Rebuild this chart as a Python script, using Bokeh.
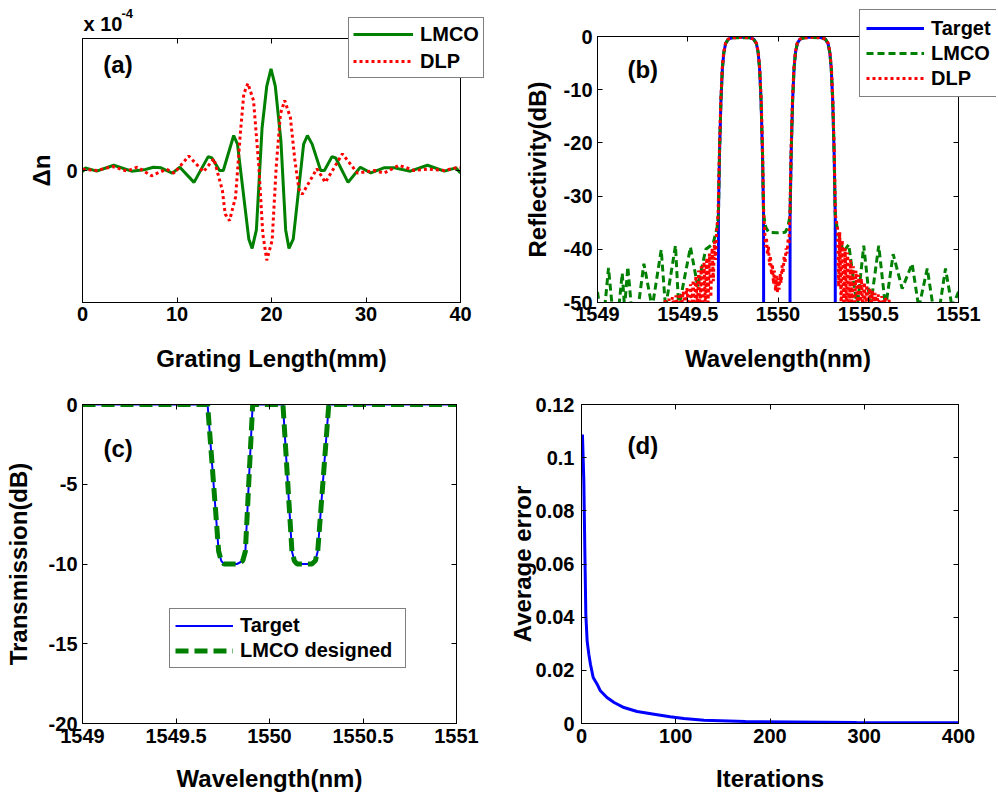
from bokeh.plotting import figure
from bokeh.models import Range1d, FixedTicker, LinearAxis, NumeralTickFormatter, Legend, LegendItem, Label
from bokeh.layouts import row, column
from bokeh.embed import file_html
from bokeh.resources import INLINE

FONT = "Liberation Sans"
GREEN = "#008000"
RED = "#ff0000"
BLUE = "#0000ff"

# ---------------- (a) index modulation, units of 1e-4 ----------------
grating_mm_lmco = [0.0, 0.3, 1.5, 3.3, 5.2, 6.5, 7.5, 8.3, 9.5, 10.3, 11.8, 13.3, 13.7, 14.5, 14.9,
                   16.0, 16.4, 17.6, 17.95, 18.4, 19.0, 19.5, 19.95, 20.4, 21.0, 21.5, 21.85, 22.3,
                   23.4, 23.8, 24.3, 25.2, 25.6, 26.4, 26.8, 28.1, 29.4, 30.5, 31.9, 33.0, 34.7,
                   36.5, 38.3, 39.5, 40.0]
dn_lmco = [-0.01, 0.02, -0.005, 0.04, -0.005, 0.005, 0.025, 0.02, -0.02, 0.025, -0.09, 0.105, 0.095,
           0.0, 0.0, 0.265, 0.2, -0.52, -0.59, -0.45, 0.32, 0.64, 0.77, 0.64, 0.22, -0.45, -0.59,
           -0.52, 0.2, 0.265, 0.2, 0.0, 0.0, 0.105, 0.095, -0.09, 0.025, -0.018, 0.02, 0.02, -0.005,
           0.04, -0.005, 0.02, -0.018]
grating_mm_dlp = [0.0, 1.5, 3.2, 4.7, 5.8, 7.3, 8.9, 9.7, 11.25, 12.8, 13.9, 14.8, 15.1, 15.56, 16.2,
                  16.7, 17.07, 17.5, 18.1, 18.66, 19.08, 19.5, 20.07, 20.5, 20.95, 21.4, 22.0, 22.47,
                  22.9, 23.25, 24.8, 25.7, 27.5, 29.1, 30.9, 31.9, 33.5, 35.1, 36.5, 38.3, 39.5, 40.0]
dn_dlp = [0.01, 0.0, 0.03, -0.005, 0.025, -0.04, 0.01, -0.02, 0.11, -0.01, 0.09, -0.15, -0.33, -0.38,
          -0.2, 0.28, 0.58, 0.66, 0.53, 0.03, -0.48, -0.68, -0.53, 0.03, 0.43, 0.53, 0.4, 0.08,
          -0.14, -0.18, 0.013, -0.09, 0.126, -0.02, 0.0, -0.02, 0.04, 0.0, 0.01, 0.0, 0.02, 0.02]

# ---------------- (b) reflectivity (dB) ----------------
refl_target_wl = [1549.000, 1549.669, 1549.670, 1549.676, 1549.684, 1549.692, 1549.700, 1549.710,
                  1549.725, 1549.750, 1549.795, 1549.840, 1549.865, 1549.880, 1549.890, 1549.898,
                  1549.906, 1549.914, 1549.920, 1549.921, 1550.066, 1550.067, 1550.073, 1550.081,
                  1550.089, 1550.097, 1550.107, 1550.122, 1550.147, 1550.192, 1550.237, 1550.262,
                  1550.277, 1550.287, 1550.295, 1550.303, 1550.311, 1550.317, 1550.318, 1551.000]
refl_target_db = [-80, -80, -33.5, -22, -12, -6, -3, -1.3, -0.5, -0.2, -0.1, -0.2, -0.5, -1.3, -3, -6,
                  -12, -22, -33.5, -80, -80, -33.5, -22, -12, -6, -3, -1.3, -0.5, -0.2, -0.1, -0.2,
                  -0.5, -1.3, -3, -6, -12, -22, -33.5, -80, -80]

refl_lmco_wl = [1549.000, 1549.012, 1549.040, 1549.061, 1549.082, 1549.118, 1549.137, 1549.150,
                1549.168, 1549.188, 1549.225, 1549.257, 1549.303, 1549.353, 1549.377, 1549.432,
                1549.450, 1549.515, 1549.555, 1549.600, 1549.640, 1549.662,
                1549.670, 1549.676, 1549.684, 1549.692, 1549.700, 1549.710, 1549.725, 1549.750,
                1549.795, 1549.840, 1549.865, 1549.880, 1549.890, 1549.898, 1549.906, 1549.914,
                1549.920,
                1549.932, 1549.948, 1549.995, 1550.040, 1550.055,
                1550.067, 1550.073, 1550.081, 1550.089, 1550.097, 1550.107, 1550.122, 1550.147,
                1550.192, 1550.237, 1550.262, 1550.277, 1550.287, 1550.295, 1550.303, 1550.311,
                1550.317,
                1550.330, 1550.362, 1550.392, 1550.439, 1550.475, 1550.512, 1550.558, 1550.596,
                1550.638, 1550.688, 1550.743, 1550.780, 1550.827, 1550.860, 1550.895, 1550.928,
                1550.965, 1551.000]
refl_lmco_db = [-48, -51, -51, -43.5, -51, -51, -44.5, -51, -43.3, -51, -51, -42.7, -51, -40.1, -51,
                -39.3, -51, -39.6, -47, -40, -39, -36,
                -33.5, -22, -12, -6, -3, -1.3, -0.5, -0.25, -0.2, -0.25, -0.5, -1.3, -3, -6, -12,
                -22, -33.5,
                -35.8, -36.8, -36.9, -36.8, -35.8,
                -33.5, -22, -12, -6, -3, -1.3, -0.5, -0.25, -0.2, -0.25, -0.5, -1.3, -3, -6, -12,
                -22, -33.5,
                -36.5, -40.5, -39.1, -51, -39.3, -51, -39.3, -51, -40.9, -47.4, -42.7, -51, -43.6,
                -51, -51, -43.6, -51, -48]

refl_dlp_wl = [1549.000, 1549.365, 1549.375, 1549.385, 1549.395, 1549.405, 1549.415, 1549.425,
               1549.435, 1549.445, 1549.455, 1549.465, 1549.475, 1549.485, 1549.495, 1549.505,
               1549.515, 1549.523, 1549.530, 1549.538, 1549.545, 1549.553, 1549.560, 1549.568,
               1549.575, 1549.583, 1549.590, 1549.598, 1549.605, 1549.613, 1549.620, 1549.628,
               1549.635, 1549.642, 1549.648, 1549.654, 1549.660,
               1549.668, 1549.675, 1549.683, 1549.691, 1549.699, 1549.709, 1549.724, 1549.750,
               1549.795, 1549.840, 1549.866, 1549.881, 1549.891, 1549.899, 1549.907, 1549.915,
               1549.921,
               1549.926, 1549.931, 1549.936, 1549.942, 1549.947, 1549.953, 1549.958, 1549.964,
               1549.969, 1549.975, 1549.980, 1549.986, 1549.991, 1549.996, 1550.001, 1550.006,
               1550.012, 1550.017, 1550.023, 1550.028, 1550.034, 1550.039, 1550.045, 1550.050,
               1550.056, 1550.061,
               1550.066, 1550.072, 1550.080, 1550.088, 1550.096, 1550.106, 1550.121, 1550.147,
               1550.192, 1550.237, 1550.263, 1550.278, 1550.288, 1550.296, 1550.304, 1550.312,
               1550.318,
               1550.330, 1550.336, 1550.342, 1550.350, 1550.356, 1550.365, 1550.372, 1550.380,
               1550.386, 1550.395, 1550.402, 1550.410, 1550.418, 1550.425, 1550.432, 1550.440,
               1550.448, 1550.455, 1550.462, 1550.470, 1550.478, 1550.485, 1550.492, 1550.500,
               1550.508, 1550.515, 1550.522, 1550.530, 1550.538, 1550.545, 1550.555, 1550.565,
               1550.575, 1550.585, 1550.595, 1550.605, 1550.615, 1550.625, 1551.000]
refl_dlp_db = [-80, -52, -49.6, -51, -49.3, -51, -49.0, -51, -48.7, -51, -48.3, -51, -47.9, -51, -47.3,
               -51, -46.6, -51, -45.8, -51, -45.0, -51, -44.0, -51, -43.2, -51, -42.4, -51, -41.6,
               -50, -40.8, -49, -39.8, -46, -38.5, -42, -36.5,
               -33.5, -22, -12, -6, -3, -1.3, -0.5, -0.25, -0.15, -0.25, -0.5, -1.3, -3, -6, -12,
               -22, -33.5,
               -36.5, -39.5, -37.8, -41, -39.5, -43, -41.2, -44.8, -42.8, -46.5, -44, -47.8, -45,
               -48.2, -45.5, -47.6, -44.5, -46.3, -43, -44.5, -41.3, -42.6, -39.8, -40.8, -38.2,
               -38.8,
               -33.5, -22, -12, -6, -3, -1.3, -0.5, -0.25, -0.15, -0.25, -0.5, -1.3, -3, -6, -12,
               -22, -33.5,
               -36, -47, -36.8, -51, -38.3, -51, -39.8, -51, -40.6, -51, -42, -51, -43.2, -51, -44,
               -51, -44.8, -51, -45.5, -51, -46.2, -51, -46.7, -51, -47.3, -51, -47.8, -51, -48.2,
               -51, -48.5, -51, -48.8, -51, -49.1, -51, -49.5, -52, -80]

# ---------------- (c) transmission (dB) ----------------
trans_wl = [1549.000, 1549.669, 1549.728, 1549.742, 1549.757, 1549.790, 1549.826, 1549.857, 1549.871,
            1549.910, 1550.072, 1550.120, 1550.133, 1550.147, 1550.190, 1550.227, 1550.245,
            1550.258, 1550.317, 1551.000]
trans_target_db = [0, 0, -9.2, -9.8, -10, -10, -10, -9.8, -9.2, 0, 0, -9.2, -9.8, -10, -10, -10,
                   -9.8, -9.2, 0, 0]
trans_lmco_db = [0, 0, -9.2, -9.8, -10, -10, -10, -9.8, -9.2, 0, 0, -9.2, -9.8, -10, -10, -10,
                 -9.8, -9.2, 0, 0]

# ---------------- (d) convergence ----------------
iterations = [1, 2.5, 3.5, 4.6, 6, 7.8, 9.5, 12.4, 16.6, 20, 27, 34.6, 45, 59, 77, 94, 108.5, 130,
              174, 292, 400]
avg_error = [0.1087, 0.091, 0.066, 0.041, 0.031, 0.026, 0.0223, 0.0173, 0.0148, 0.0123, 0.0098,
             0.0079, 0.006, 0.0045, 0.0035, 0.0025, 0.0019, 0.00125, 0.00075, 0.0004, 0.00025]

wl_ticks = [1549, 1549.5, 1550, 1550.5, 1551]


def style_axis(ax, ticks, fmt, hidden=False):
    ax.ticker = FixedTicker(ticks=ticks)
    if fmt:
        ax.formatter = NumeralTickFormatter(format=fmt)
    ax.major_tick_in = 5
    ax.major_tick_out = 0
    ax.minor_tick_in = 0
    ax.minor_tick_out = 0
    ax.axis_line_color = "black"
    ax.major_tick_line_color = "black"
    ax.major_label_text_font = FONT
    ax.major_label_text_font_style = "bold"
    ax.axis_label_text_font = FONT
    ax.axis_label_text_font_style = "bold"
    ax.axis_label_text_font_size = "24px"
    ax.axis_label_text_color = "black"
    if hidden:
        ax.major_label_text_font_size = "1px"
        ax.major_label_text_color = None
        ax.major_label_standoff = 0
    else:
        ax.major_label_text_font_size = "20px"
        ax.major_label_text_color = "black"


def make_fig(w, h, xr, yr, borders, xticks, yticks, xfmt, yfmt, xlabel, ylabel,
             xstand, ystand, xls=4, yls=5):
    l, r, t, b = borders
    p = figure(width=w, height=h, x_range=Range1d(*xr), y_range=Range1d(*yr),
               output_backend="svg", toolbar_location=None, title=None,
               min_border_left=l, min_border_right=r, min_border_top=t, min_border_bottom=b)
    p.frame_align = False
    p.xgrid.visible = False
    p.ygrid.visible = False
    p.outline_line_color = "black"
    p.outline_line_width = 1
    style_axis(p.xaxis[0], xticks, xfmt)
    style_axis(p.yaxis[0], yticks, yfmt)
    p.xaxis[0].axis_label = xlabel
    p.yaxis[0].axis_label = ylabel
    p.xaxis[0].major_label_standoff = xls
    p.yaxis[0].major_label_standoff = yls
    p.xaxis[0].axis_label_standoff = xstand
    p.yaxis[0].axis_label_standoff = ystand
    top = LinearAxis()
    style_axis(top, xticks, xfmt, hidden=True)
    p.add_layout(top, "above")
    right = LinearAxis()
    style_axis(right, yticks, yfmt, hidden=True)
    p.add_layout(right, "right")
    return p


OFF = 10000  # overlay coordinate origin, far away from every data value


def make_overlay(w, h):
    o = figure(width=w, height=h, x_range=Range1d(OFF, OFF + w), y_range=Range1d(OFF, OFF + h),
               x_axis_type=None, y_axis_type=None, output_backend="svg",
               toolbar_location=None, title=None, min_border=0, min_border_left=0,
               min_border_right=0, min_border_top=0, min_border_bottom=0)
    o.frame_align = False
    o.outline_line_color = None
    o.background_fill_alpha = 0
    o.border_fill_alpha = 0
    return o


def make_legend(items, loc, glyph_width, padding, spacing, row_h, label_width=20):
    lg = Legend(items=items, location=loc)
    lg.label_text_font = FONT
    lg.label_text_font_style = "bold"
    lg.label_text_font_size = "20px"
    lg.label_text_color = "black"
    lg.border_line_color = "black"
    lg.border_line_width = 1
    lg.background_fill_color = "white"
    lg.background_fill_alpha = 1
    lg.glyph_width = glyph_width
    lg.glyph_height = row_h
    lg.label_height = row_h
    lg.label_width = label_width
    lg.label_standoff = 7
    lg.padding = padding
    lg.spacing = spacing
    lg.margin = 0
    return lg


def panel_label(p, x, y, text):
    p.add_layout(Label(x=x, y=y, text=text, text_font=FONT, text_font_style="bold",
                       text_font_size="24px", text_color="black", text_baseline="middle",
                       text_align="left"))


TOP_H = 385
BOT_H = 411
LEFT_W = 503
RIGHT_W = 493

# (a)
pa = make_fig(LEFT_W, TOP_H, (0, 40), (-1, 1), (82, 43, 38, 83), [0, 10, 20, 30, 40], [0],
              None, None, "Grating Length(mm)", "Δn", 21, 8)
pa.line(grating_mm_lmco, dn_lmco, line_color=GREEN, line_width=3)
pa.line(grating_mm_dlp, dn_dlp, line_color=RED, line_width=3, line_dash="3 3")
panel_label(pa, 2.2, 0.80, "(a)")

# overlay for (a): exponent text and legend that cross the frame edge
# (its copies of the series fall outside the overlay's ranges; they only feed the legend)
ova = make_overlay(421, 80)
oa1 = ova.line(grating_mm_lmco, dn_lmco, line_color=GREEN, line_width=3)
oa2 = ova.line(grating_mm_dlp, dn_dlp, line_color=RED, line_width=3, line_dash="3 3")
ova.add_layout(make_legend([LegendItem(label="LMCO", renderers=[oa1]),
                            LegendItem(label="DLP", renderers=[oa2])], (266, 2), 60, 4, 3, 24))
ova.add_layout(Label(x=OFF + 1, y=OFF + 57, text="x 10", text_font=FONT, text_font_style="bold",
                     text_font_size="20px", text_color="black", text_baseline="alphabetic"))
ova.add_layout(Label(x=OFF + 39, y=OFF + 67, text="-4", text_font=FONT, text_font_style="bold",
                     text_font_size="13px", text_color="black", text_baseline="alphabetic"))
ova.margin = (-TOP_H, 0, TOP_H - 80, 82)

# (b)
pb = make_fig(RIGHT_W, TOP_H, (1549, 1551), (-50, 0), (94, 38, 36, 83), wl_ticks,
              [-50, -40, -30, -20, -10, 0], "0.[0]", "0", "Wavelength(nm)", "Reflectivity(dB)",
              21, 10)
pb.line(refl_target_wl, refl_target_db, line_color=BLUE, line_width=3)
pb.line(refl_lmco_wl, refl_lmco_db, line_color=GREEN, line_width=3, line_dash="7 4")
pb.line(refl_dlp_wl, refl_dlp_db, line_color=RED, line_width=3, line_dash="3 3")
panel_label(pb, 1549.166, -6.2, "(b)")

ovb = make_overlay(141, 92)
ob1 = ovb.line(refl_target_wl, refl_target_db, line_color=BLUE, line_width=3)
ob2 = ovb.line(refl_lmco_wl, refl_lmco_db, line_color=GREEN, line_width=3, line_dash="7 4")
ob3 = ovb.line(refl_dlp_wl, refl_dlp_db, line_color=RED, line_width=3, line_dash="3 3")
ovb.add_layout(make_legend([LegendItem(label="Target", renderers=[ob1]),
                            LegendItem(label="LMCO", renderers=[ob2]),
                            LegendItem(label="DLP", renderers=[ob3])], (4, 3), 58, 6, 1, 24))
ovb.margin = (8 - TOP_H, 0, TOP_H - 8 - 92, 855 - LEFT_W)

# (c)
pc = make_fig(LEFT_W, BOT_H, (1549, 1551), (-20, 0), (82, 47, 19, 73), wl_ticks,
              [-20, -15, -10, -5, 0], "0.[0]", "0", "Wavelength(nm)", "Transmission(dB)",
              19, 14, xls=5)
rc1 = pc.line(trans_wl, trans_target_db, line_color=BLUE, line_width=2)
rc2 = pc.line(trans_wl, trans_lmco_db, line_color=GREEN, line_width=5, line_dash="13 6")
pc.add_layout(make_legend([LegendItem(label="Target", renderers=[rc1]),
                           LegendItem(label="LMCO designed", renderers=[rc2])], (87, 55),
                          58, 5, 2, 23, label_width=160))
panel_label(pc, 1549.112, -2.73, "(c)")

# (d)
pd_ = make_fig(RIGHT_W, BOT_H, (0, 400), (0, 0.12), (78, 38, 19, 73), [0, 100, 200, 300, 400],
               [0, 0.02, 0.04, 0.06, 0.08, 0.1, 0.12], None, "0.[00]", "Iterations",
               "Average error", 19, -3, xls=5, yls=7)
pd_.line(iterations, avg_error, line_color=BLUE, line_width=3)
panel_label(pd_, 48.8, 0.1046, "(d)")

layout = row(column(pa, ova, pc), column(pb, ovb, pd_))
open("out.html", "w").write(file_html(layout, INLINE))
